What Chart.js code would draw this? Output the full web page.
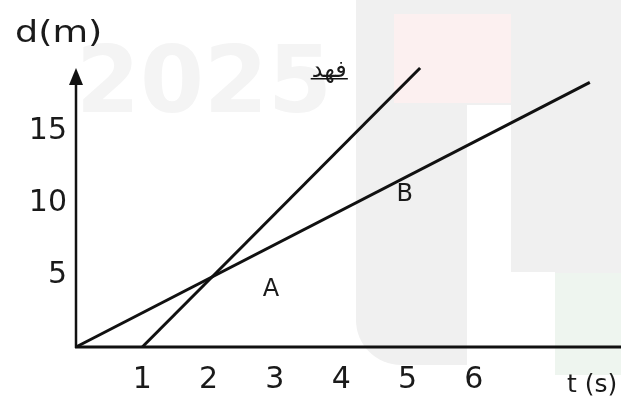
<!DOCTYPE html>
<html><head><meta charset="utf-8">
<style>html,body{margin:0;padding:0;background:#fff;overflow:hidden}#wrap{width:621px;height:401px}</style>
<script src="https://cdn.jsdelivr.net/npm/chart.js@4/dist/chart.umd.min.js"></script>
</head><body><div id="wrap"><canvas id="c" width="621" height="401"></canvas></div>
<script>
// ---- data ----
const xTicks = [1, 2, 3, 4, 5, 6];
const yTicks = [5, 10, 15];
const slowT = [0, 7.75];   // shallower line (through origin, point B on it)
const slowD = [0, 18.4];
const fahdT = [1, 5.19];   // steeper line labelled "فهد"
const fahdD = [0, 19.4];
const labelTexts = ['A', 'B', 'فهد'];
const labelT = [2.94, 4.96, 3.82];
const labelD = [3.96, 10.56, 19.0];
const xTitle = 't (s)';
const yTitle = 'd(m)';

const toPts = (ts, ds) => ts.map((t, i) => ({x: t, y: ds[i]}));

const watermark = {
  id: 'watermark',
  beforeDraw(chart) {
    const c = chart.ctx;
    c.save();
    c.fillStyle = '#fff'; c.fillRect(0, 0, chart.width, chart.height);
    c.fillStyle = '#f0f0f0';
    c.beginPath();
    c.roundRect(356, -20, 300, 385, [0, 0, 0, 45]);
    c.fill();
    c.fillStyle = '#fcf0f0';
    c.fillRect(394, 14, 117, 89);
    c.fillStyle = '#ffffff';
    c.fillRect(467, 105, 44, 270);
    c.fillRect(467, 272, 88, 103);
    c.fillStyle = '#f0f0f0';
    c.beginPath(); c.roundRect(511, 0, 120, 270, [0, 0, 0, 40]); c.fill();
    c.fillStyle = '#eef5ef';
    c.fillRect(555, 273, 70, 102);
    c.fillStyle = '#ffffff';
    c.beginPath(); c.arc(511, 396, 20, 0, Math.PI * 2); c.fill();
    c.fillStyle = '#f4f4f4';
    c.font = 'bold 92px "DejaVu Sans"';
    c.textBaseline = 'alphabetic';
    c.fillText('2025', 76, 112);
    c.restore();
  }
};

const decor = {
  id: 'decor',
  afterDatasetsDraw(chart) {
    const c = chart.ctx, a = chart.chartArea;
    const xs = chart.scales.x, ys = chart.scales.y;
    c.save();
    c.strokeStyle = '#111'; c.fillStyle = '#111'; c.lineWidth = 3; c.lineCap = 'butt';
    const x0 = xs.getPixelForValue(0), y0 = ys.getPixelForValue(0);
    // x axis
    c.beginPath(); c.moveTo(x0 - 1, y0); c.lineTo(a.right, y0); c.stroke();
    // y axis with arrow
    c.lineWidth = 2.5;
    c.beginPath(); c.moveTo(x0, y0 + 1); c.lineTo(x0, a.top + 14); c.stroke();
    c.beginPath(); c.moveTo(x0, a.top); c.lineTo(x0 - 7, a.top + 17); c.lineTo(x0 + 7, a.top + 17); c.closePath(); c.fill();
    // axis titles
    c.fillStyle = '#1a1a1a';
    c.textAlign = 'left'; c.textBaseline = 'alphabetic';
    c.save();
    c.translate(15, 42);
    c.scale(1.18, 1);
    c.font = '31px "DejaVu Sans"';
    c.fillText(yTitle, 0, 0);
    c.restore();
    c.font = '25px "DejaVu Sans"';
    c.fillText(xTitle, a.right - 54, 392);
    // point labels
    labelTexts.forEach((txt, i) => {
      const px = xs.getPixelForValue(labelT[i]), py = ys.getPixelForValue(labelD[i]);
      c.textAlign = 'center'; c.textBaseline = 'middle';
      if (txt === 'فهد') {
        c.font = '24px "DejaVu Sans"';
        c.fillText(txt, px, py - 3);
        const w = c.measureText(txt).width;
        c.lineWidth = 1.3;
        c.beginPath(); c.moveTo(px - w / 2 - 1, py + 5); c.lineTo(px + w / 2 + 1, py + 5); c.stroke();
      } else {
        c.font = '24px "DejaVu Sans"';
        c.fillText(txt, px, py);
      }
    });
    c.restore();
  }
};

new Chart(document.getElementById('c'), {
  type: 'scatter',
  data: {
    datasets: [
      {data: toPts(slowT, slowD), showLine: true, borderColor: '#111', borderWidth: 3, pointRadius: 0, clip: false},
      {data: toPts(fahdT, fahdD), showLine: true, borderColor: '#111', borderWidth: 3, pointRadius: 0, clip: false}
    ]
  },
  options: {
    responsive: false, animation: false, devicePixelRatio: 1,
    layout: {padding: {top: 68, right: 0, left: 0, bottom: 0}},
    plugins: {legend: {display: false}, tooltip: {enabled: false}},
    scales: {
      x: {
        type: 'linear', min: 0, max: 8.22,
        afterBuildTicks: s => { s.ticks = xTicks.map(v => ({value: v})); },
        afterFit: s => { s.height = 54; },
        grid: {display: false, drawTicks: false}, border: {display: false},
        ticks: {font: {family: 'DejaVu Sans', size: 30}, color: '#1a1a1a', padding: 15, maxRotation: 0, autoSkip: false}
      },
      y: {
        type: 'linear', min: 0, max: 19.4,
        afterBuildTicks: s => { s.ticks = yTicks.map(v => ({value: v})); },
        afterFit: s => { s.width = 76; },
        grid: {display: false, drawTicks: false}, border: {display: false},
        ticks: {font: {family: 'DejaVu Sans', size: 30}, color: '#1a1a1a', padding: 9, autoSkip: false}
      }
    }
  },
  plugins: [watermark, decor]
});
</script>
</body></html>
